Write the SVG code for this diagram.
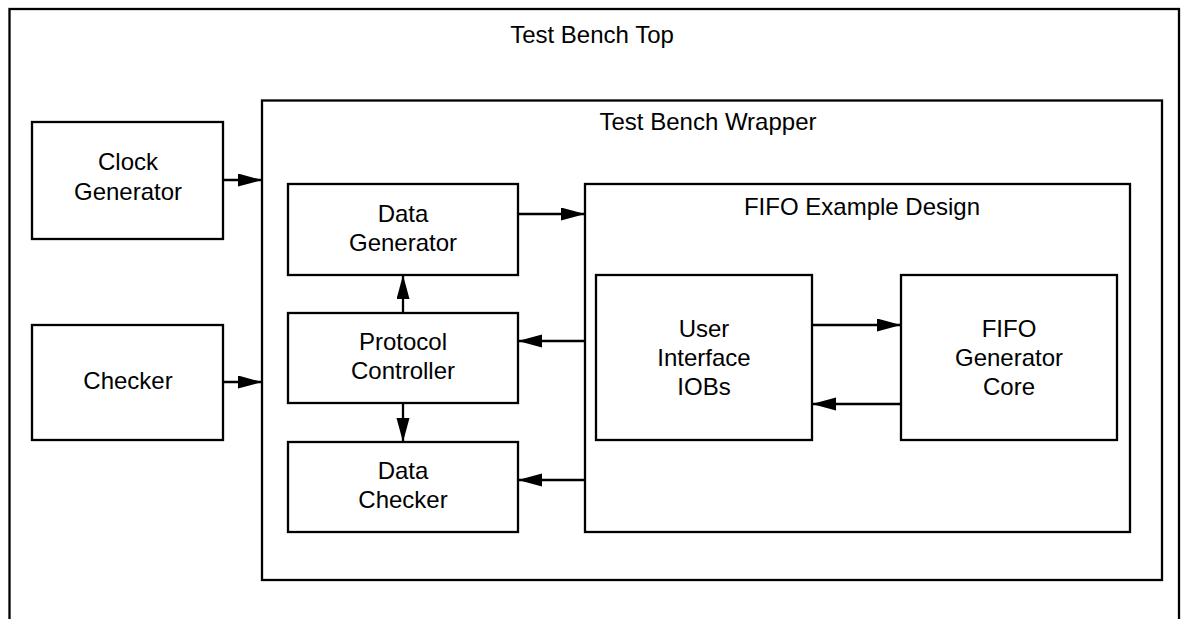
<svg xmlns="http://www.w3.org/2000/svg" width="1181" height="619" viewBox="0 0 1181 619">
<defs>
<marker id="ah" markerUnits="userSpaceOnUse" markerWidth="26" markerHeight="14" refX="24" refY="6.5" orient="auto">
<path d="M0,0 L24,6.5 L0,13 Z" fill="#000"/>
</marker>
<style>
.box{fill:#fff;stroke:#000;stroke-width:2.3}
.t{font-family:"Liberation Sans",Arial,Helvetica,sans-serif;font-size:24px;fill:#000;text-anchor:middle}
.c{stroke:#000;stroke-width:2.3;fill:none;marker-end:url(#ah)}
</style>
</defs>
<rect width="1181" height="619" fill="#fff"/>
<g id="test-bench-top">
<rect class="box" x="9.5" y="9" width="1169.5" height="640"/>
<text class="t" x="592" y="43">Test Bench Top</text>
</g>
<g id="clock-generator">
<rect class="box" x="32" y="122" width="191" height="117"/>
<text class="t" x="128" y="170">Clock</text>
<text class="t" x="128" y="200">Generator</text>
</g>
<g id="checker">
<rect class="box" x="32" y="325" width="191" height="115"/>
<text class="t" x="128" y="389">Checker</text>
</g>
<g id="test-bench-wrapper">
<rect class="box" x="262" y="100.5" width="900" height="479.5"/>
<text class="t" x="708" y="130">Test Bench Wrapper</text>
</g>
<g id="data-generator">
<rect class="box" x="288" y="184" width="230" height="91"/>
<text class="t" x="403" y="222">Data</text>
<text class="t" x="403" y="251">Generator</text>
</g>
<g id="protocol-controller">
<rect class="box" x="288" y="313" width="230" height="90"/>
<text class="t" x="403" y="350">Protocol</text>
<text class="t" x="403" y="379">Controller</text>
</g>
<g id="data-checker">
<rect class="box" x="288" y="442" width="230" height="90"/>
<text class="t" x="403" y="479">Data</text>
<text class="t" x="403" y="508">Checker</text>
</g>
<g id="fifo-example-design">
<rect class="box" x="585" y="184" width="545" height="348"/>
<text class="t" x="862" y="215">FIFO Example Design</text>
</g>
<g id="user-interface-iobs">
<rect class="box" x="596" y="275" width="216" height="165"/>
<text class="t" x="704" y="337">User</text>
<text class="t" x="704" y="366">Interface</text>
<text class="t" x="704" y="395">IOBs</text>
</g>
<g id="fifo-generator-core">
<rect class="box" x="901" y="275" width="216" height="165"/>
<text class="t" x="1009" y="337">FIFO</text>
<text class="t" x="1009" y="366">Generator</text>
<text class="t" x="1009" y="395">Core</text>
</g>
<g id="connectors">
<line class="c" x1="223" y1="180" x2="262" y2="180"/>
<line class="c" x1="223" y1="382" x2="262" y2="382"/>
<line class="c" x1="518" y1="214" x2="585" y2="214"/>
<line class="c" x1="585" y1="341" x2="518" y2="341"/>
<line class="c" x1="585" y1="480" x2="518" y2="480"/>
<line class="c" x1="403" y1="313" x2="403" y2="275"/>
<line class="c" x1="403" y1="403" x2="403" y2="442"/>
<line class="c" x1="812" y1="325" x2="901" y2="325"/>
<line class="c" x1="901" y1="404" x2="812" y2="404"/>
</g>
</svg>
